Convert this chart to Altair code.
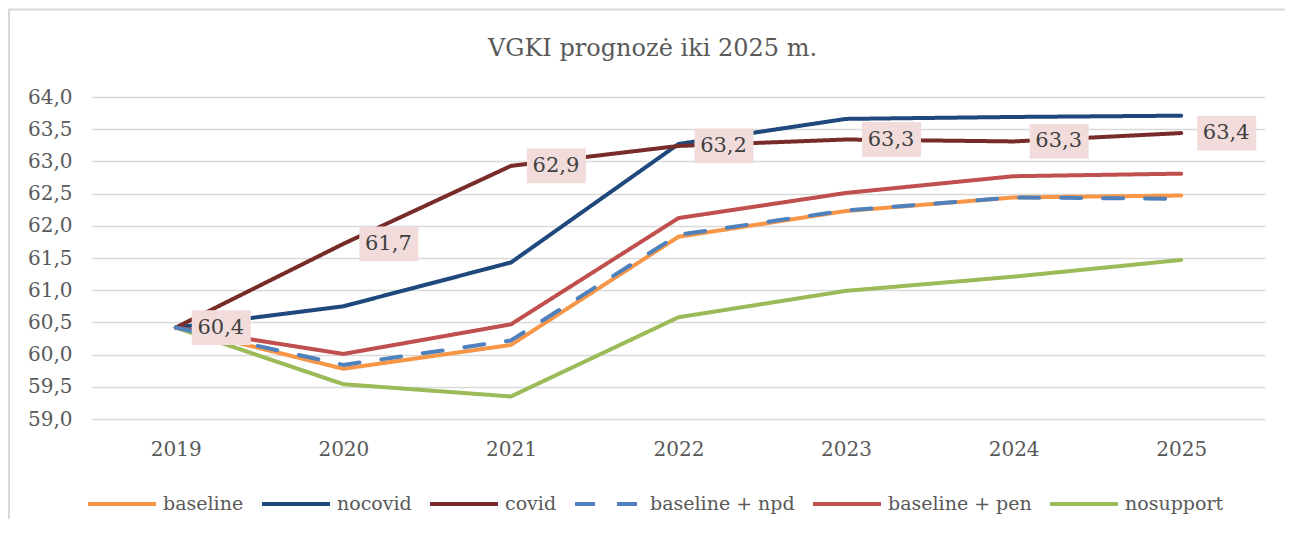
import altair as alt
import pandas as pd

years = ["2019", "2020", "2021", "2022", "2023", "2024", "2025"]
baseline = [60.42, 59.78, 60.15, 61.83, 62.23, 62.44, 62.47]
nocovid = [60.42, 60.75, 61.43, 63.27, 63.66, 63.69, 63.71]
covid = [60.42, 61.72, 62.93, 63.24, 63.34, 63.31, 63.44]
baseline_npd = [60.42, 59.84, 60.22, 61.86, 62.24, 62.44, 62.42]
baseline_pen = [60.42, 60.01, 60.47, 62.12, 62.51, 62.77, 62.81]
nosupport = [60.42, 59.54, 59.35, 60.58, 60.99, 61.21, 61.47]

legend_order = ["baseline", "nocovid", "covid", "baseline + npd", "baseline + pen", "nosupport"]
draw_order = [("baseline", baseline), ("nocovid", nocovid), ("covid", covid),
              ("baseline + pen", baseline_pen), ("nosupport", nosupport),
              ("baseline + npd", baseline_npd)]
colors = ["#F79646", "#1F497D", "#772C2A", "#4F81BD", "#C0504D", "#9BBB59"]
dashes = [[1, 0], [1, 0], [1, 0], [20, 22], [1, 0], [1, 0]]
widths = [4, 4, 4, 5, 4, 4]
y_ticks = [59.0, 59.5, 60.0, 60.5, 61.0, 61.5, 62.0, 62.5, 63.0, 63.5, 64.0]
title_text = "VGKI prognozė iki 2025 m."

rows = []
for i, (name, vals) in enumerate(draw_order):
    for y, v in zip(years, vals):
        rows.append({"series": name, "year": y, "value": v, "ord": i})
df = pd.DataFrame(rows)

FONT = "DejaVu Serif"
GRAY = "#595959"

x_enc = alt.X("year:O", sort=years,
              scale=alt.Scale(type="point", padding=0.5),
              axis=alt.Axis(title=None, labelAngle=0, labelFont=FONT, labelFontSize=20,
                            labelColor=GRAY, labelPadding=20, ticks=False, domain=False,
                            grid=False))
y_enc = alt.Y("value:Q", scale=alt.Scale(domain=[59, 64], zero=False, nice=False),
              axis=alt.Axis(title=None, values=y_ticks, labelFont=FONT, labelFontSize=20,
                            labelColor=GRAY, labelPadding=20, ticks=False, domain=False,
                            labelOverlap=False, gridColor="#D9D9D9", gridWidth=1.3,
                            labelExpr="replace(format(datum.value, '.1f'), '.', ',')"))

leg = alt.Legend(title=None, orient="none", direction="horizontal", legendX=-6, legendY=371,
                 symbolType="stroke", symbolSize=4624, symbolStrokeWidth=4,
                 labelFont=FONT, labelFontSize=19, labelColor=GRAY, labelOffset=5,
                 columnPadding=10, labelLimit=300)

lines = alt.Chart(df).mark_line(strokeCap="round", strokeJoin="round").encode(
    x=x_enc,
    y=y_enc,
    color=alt.Color("series:N", scale=alt.Scale(domain=legend_order, range=colors), legend=leg),
    strokeDash=alt.StrokeDash("series:N", scale=alt.Scale(domain=legend_order, range=dashes), legend=leg),
    strokeWidth=alt.StrokeWidth("series:N", scale=alt.Scale(domain=legend_order, range=widths), legend=None),
    order=alt.Order("ord:Q"),
)

covid_df = df[df["series"] == "covid"]
box_path = "M0.533,-0.58L2.5,-0.58L2.5,0.58L0.533,0.58Z"
boxes = alt.Chart(covid_df).mark_point(shape=box_path, size=900 * 4, filled=True,
                                       fill="#F2DCDB", opacity=1, strokeWidth=0).encode(
    x=x_enc, y=y_enc)

labels = alt.Chart(covid_df).transform_calculate(
    lab="replace(format(datum.value, '.1f'), '.', ',')"
).mark_text(dx=45, font=FONT, fontSize=21, color="#404040", align="center", baseline="middle").encode(
    x=x_enc, y=y_enc, text="lab:N")

frame_top = alt.Chart(alt.Data(values=[{"k": 1}])).mark_rule(color="#D9D9D9", strokeWidth=2).encode(
    x=alt.value(-84), x2=alt.value(1300), y=alt.value(-87.5))
frame_left = alt.Chart(alt.Data(values=[{"k": 1}])).mark_rule(color="#D9D9D9", strokeWidth=2).encode(
    x=alt.value(-83), y=alt.value(-88), y2=alt.value(600))

chart = alt.layer(frame_top, frame_left, lines, boxes, labels).properties(
    width=1173, height=322,
    autosize=alt.AutoSizeParams(type="none"),
    padding={"left": 84, "top": 89, "right": 20, "bottom": 100},
    title=alt.TitleParams(title_text, font=FONT, fontSize=24, fontWeight="normal", color=GRAY,
                          anchor="middle", frame="group", dx=-26, offset=36, dy=89),
).configure_view(stroke=None)

chart.save("out.html", embed_options={"renderer": "svg", "actions": False})
